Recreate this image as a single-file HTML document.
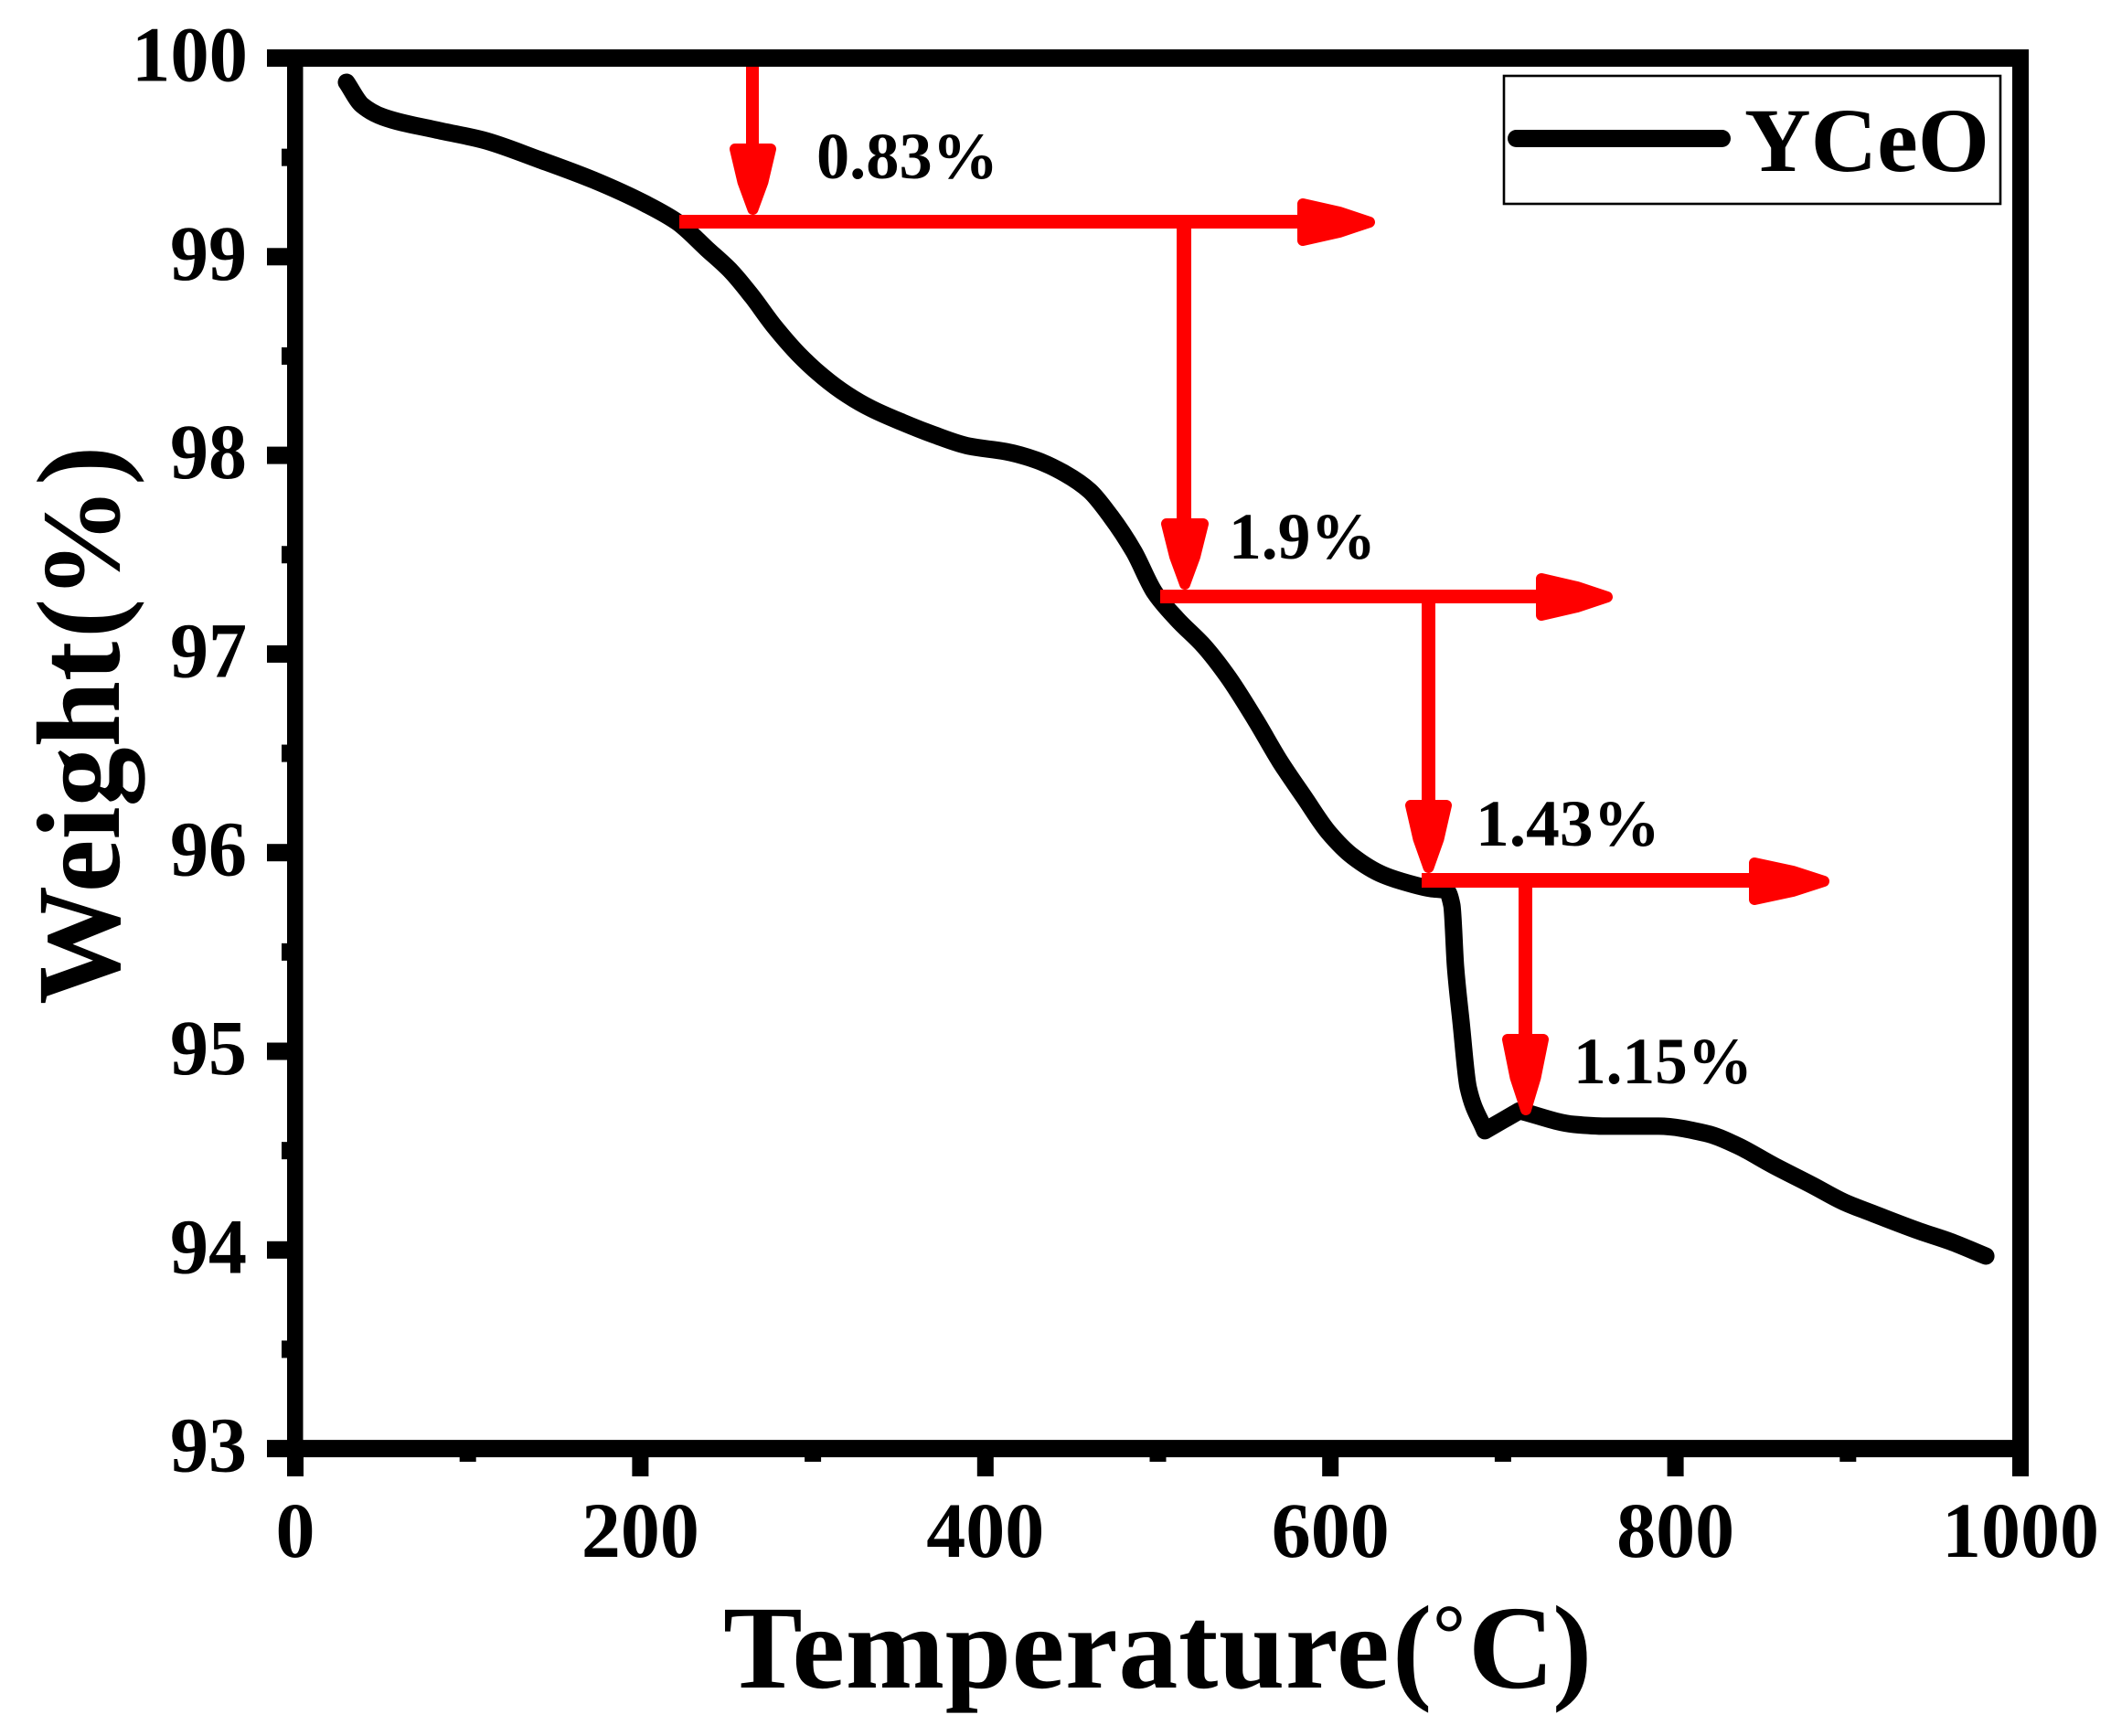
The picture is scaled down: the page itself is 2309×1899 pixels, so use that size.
<!DOCTYPE html>
<html lang="en">
<head>
<meta charset="utf-8">
<title>YCeO Weight vs Temperature</title>
<style>
html,body{margin:0;padding:0;background:#fff;}
svg{display:block;}
text{font-family:"Liberation Serif","Times New Roman",serif;font-weight:bold;fill:#000;}
</style>
</head>
<body>
<svg id="chart" xmlns="http://www.w3.org/2000/svg" width="2309" height="1899" viewBox="0 0 2309 1899">
  <rect x="0" y="0" width="2309" height="1899" fill="#fff"/>
  <g id="series-layer"></g>

  <g fill="#f00" stroke="none">
    <rect x="816" y="73" width="14" height="90"/>
    <polygon points="804,163 843,163 834.5,199 823.5,229 812.5,199" stroke="#f00" stroke-width="12" stroke-linejoin="round"/>
    <rect x="743" y="235" width="690" height="15"/>
    <polygon points="1425,223 1465,232 1498,243 1465,254 1425,263" stroke="#f00" stroke-width="12" stroke-linejoin="round"/>

    <rect x="1287" y="250" width="16" height="325"/>
    <polygon points="1276,573 1316,573 1307,609 1296,639 1285,609" stroke="#f00" stroke-width="12" stroke-linejoin="round"/>
    <rect x="1269" y="645" width="420" height="15"/>
    <polygon points="1686,633 1725,642 1758,653 1725,664 1686,673" stroke="#f00" stroke-width="12" stroke-linejoin="round"/>

    <rect x="1555" y="660" width="15" height="225"/>
    <polygon points="1543,881 1582,881 1573.5,918 1562.5,949 1551.5,918" stroke="#f00" stroke-width="12" stroke-linejoin="round"/>
    <rect x="1555" y="955" width="370" height="16"/>
    <polygon points="1919,944 1961,953 1995,964 1961,975 1919,984" stroke="#f00" stroke-width="12" stroke-linejoin="round"/>

    <rect x="1661" y="971" width="15" height="170"/>
    <polygon points="1649,1137 1688,1137 1679.5,1179 1669,1214 1657.5,1179" stroke="#f00" stroke-width="12" stroke-linejoin="round"/>
  </g>

  <g font-size="72">
    <text x="893" y="195" font-size="72" textLength="199" lengthAdjust="spacingAndGlyphs">0.83%</text>
    <text x="1344" y="611" font-size="72" textLength="161" lengthAdjust="spacingAndGlyphs">1.9%</text>
    <text x="1614" y="925" font-size="72" textLength="202" lengthAdjust="spacingAndGlyphs">1.43%</text>
    <text x="1721" y="1185" font-size="72" textLength="196" lengthAdjust="spacingAndGlyphs">1.15%</text>
  </g>

  <g id="axis-layer"></g>

  <text x="791" y="1846" font-size="130"><tspan letter-spacing="0.65">Temperature</tspan><tspan x="1523">(</tspan><tspan x="1567" dy="-29" font-size="90">°</tspan><tspan x="1606" dy="29">C</tspan><tspan x="1698">)</tspan></text>
  <text transform="translate(130,1099) rotate(-90)" x="0" y="0" font-size="130">Weight<tspan x="401">(</tspan><tspan x="444" font-size="122">%</tspan><tspan x="568">)</tspan></text>

  <g>
    <rect x="1645" y="83" width="543" height="140" fill="none" stroke="#000" stroke-width="2.6"/>
    <line x1="1658.5" y1="151.5" x2="1883.5" y2="151.5" stroke="#000" stroke-width="19" stroke-linecap="round"/>
    <text x="1908" y="187" font-size="100" textLength="268" lengthAdjust="spacingAndGlyphs">YCeO</text>
  </g>
</svg>
<script>
var temperatures = [29.7,38.7,50.9,81.1,108.6,142.0,172.8,203.0,221.5,238.5,252.8,265.0,277.7,291.5,305.8,320.1,333.9,351.9,369.4,390.6,411.8,429.3,446.2,460.5,472.7,486.0,498.1,510.9,526.8,540.5,556.4,570.8,585.1,598.8,613.1,630.6,648.6,658.2,667.2,670.4,672.5,675.7,679.9,689.5,709.6,741.4,759.4,790.1,818.2,835.7,856.9,879.7,897.7,915.2,941.7,959.2,979.9];
var weights = [99.878,99.763,99.703,99.639,99.588,99.487,99.386,99.266,99.174,99.040,98.925,98.797,98.649,98.511,98.396,98.304,98.235,98.166,98.106,98.046,98.019,97.977,97.908,97.821,97.692,97.517,97.310,97.177,97.039,96.887,96.671,96.459,96.275,96.104,95.980,95.888,95.838,95.819,95.810,95.736,95.428,95.152,94.816,94.600,94.701,94.632,94.623,94.623,94.586,94.526,94.425,94.324,94.241,94.181,94.094,94.043,93.969];
var xMajorTicks = [0,200,400,600,800,1000];
var xMinorTicks = [100,300,500,700,900];
var yMajorTicks = [93,94,95,96,97,98,99,100];
var yMinorTicks = [93.5,94.5,95.5,96.5,97.5,98.5,99.5];

var NS = 'http://www.w3.org/2000/svg';
function xScale(v){ return 323 + (v - 0) * (2210 - 323) / (1000 - 0); }
function yScale(v){ return 63.5 + (100 - v) * (1584.6 - 63.5) / (100 - 93); }

var axisLayer = document.getElementById('axis-layer');
var seriesLayer = document.getElementById('series-layer');

function makeRect(x, y, w, h){
  var r = document.createElementNS(NS, 'rect');
  r.setAttribute('x', x);
  r.setAttribute('y', y);
  r.setAttribute('width', w);
  r.setAttribute('height', h);
  r.setAttribute('fill', '#000');
  return r;
}

/* monotone cubic path through the data points; local extrema stay sharp corners */
function smoothPath(xs, ys){
  var n = xs.length, sl = [], mL = [], mR = [], i;
  for (i = 0; i < n - 1; i++) sl.push((ys[i + 1] - ys[i]) / (xs[i + 1] - xs[i]));
  mL[0] = mR[0] = sl[0];
  mL[n - 1] = mR[n - 1] = sl[n - 2];
  for (i = 1; i < n - 1; i++) {
    if (sl[i - 1] * sl[i] < 0) { mL[i] = sl[i - 1]; mR[i] = sl[i]; }
    else if (sl[i - 1] === 0 || sl[i] === 0) { mL[i] = mR[i] = 0; }
    else {
      var a = xs[i] - xs[i - 1], b = xs[i + 1] - xs[i];
      mL[i] = mR[i] = 3 * (a + b) / ((2 * b + a) / sl[i - 1] + (b + 2 * a) / sl[i]);
    }
  }
  var out = 'M' + xs[0].toFixed(1) + ' ' + ys[0].toFixed(1);
  for (i = 0; i < n - 1; i++) {
    var h = (xs[i + 1] - xs[i]) / 3;
    out += ' C' + (xs[i] + h).toFixed(1) + ' ' + (ys[i] + mR[i] * h).toFixed(1) + ' ' +
           (xs[i + 1] - h).toFixed(1) + ' ' + (ys[i + 1] - mL[i + 1] * h).toFixed(1) + ' ' +
           xs[i + 1].toFixed(1) + ' ' + ys[i + 1].toFixed(1);
  }
  return out;
}

/* curve */
var curve = document.createElementNS(NS, 'path');
curve.setAttribute('d', smoothPath(temperatures.map(xScale), weights.map(yScale)));
curve.setAttribute('fill', 'none');
curve.setAttribute('stroke', '#000');
curve.setAttribute('stroke-width', '19');
curve.setAttribute('stroke-linecap', 'round');
curve.setAttribute('stroke-linejoin', 'round');


seriesLayer.appendChild(curve);

/* frame */
var frameTop = makeRect(314, yScale(100) - 9.5, 1905, 19);


axisLayer.appendChild(frameTop);
var frameBottom = makeRect(314, yScale(93) - 9.5, 1905, 19);


axisLayer.appendChild(frameBottom);
var frameLeft = makeRect(314, yScale(100), 17.5, yScale(93) - yScale(100));


axisLayer.appendChild(frameLeft);
var frameRight = makeRect(2201, yScale(100), 18, yScale(93) - yScale(100));


axisLayer.appendChild(frameRight);

/* y ticks */
yMajorTicks.forEach(function(v){
  var t = makeRect(292, yScale(v) - 9.5, 22, 19);
  
  
  axisLayer.appendChild(t);
  var label = document.createElementNS(NS, 'text');
  var s = String(v);
  label.setAttribute('x', s.length === 3 ? 144 : 186);
  label.setAttribute('y', yScale(v) + 25);
  label.setAttribute('font-size', '86');
  label.setAttribute('textLength', s.length === 3 ? 127 : 84);
  label.setAttribute('lengthAdjust', 'spacingAndGlyphs');
  
  
  label.textContent = s;
  axisLayer.appendChild(label);
});
yMinorTicks.forEach(function(v){
  var t = makeRect(308, yScale(v) - 9.5, 6, 19);
  
  
  axisLayer.appendChild(t);
});

/* x ticks */
xMajorTicks.forEach(function(v){
  var t = makeRect(xScale(v) - 9, 1594, 18, 21);
  
  
  axisLayer.appendChild(t);
  var label = document.createElementNS(NS, 'text');
  var s = String(v);
  label.setAttribute('x', xScale(v));
  label.setAttribute('y', 1703);
  label.setAttribute('font-size', '86');
  label.setAttribute('text-anchor', 'middle');
  label.setAttribute('textLength', s.length * 43);
  label.setAttribute('lengthAdjust', 'spacingAndGlyphs');
  
  
  label.textContent = s;
  axisLayer.appendChild(label);
});
xMinorTicks.forEach(function(v){
  var t = makeRect(xScale(v) - 9, 1594, 18, 5);
  
  
  axisLayer.appendChild(t);
});
</script>
</body>
</html>
